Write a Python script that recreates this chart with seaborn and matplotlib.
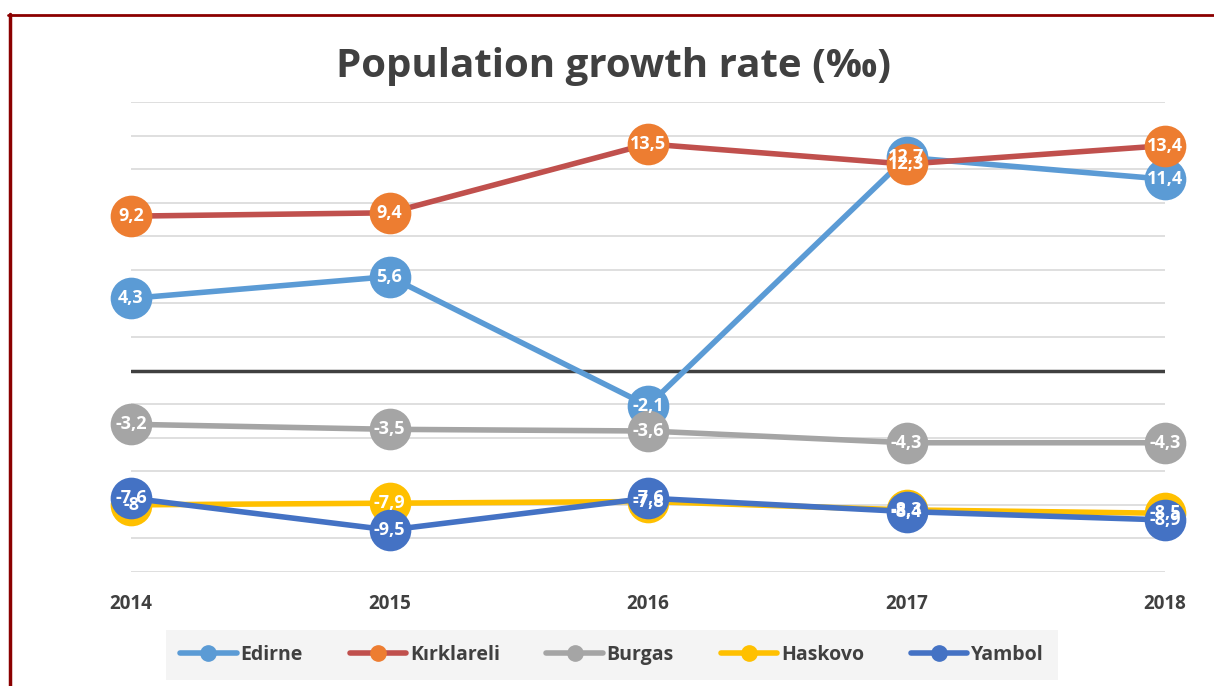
import matplotlib
matplotlib.use("Agg")
import matplotlib.pyplot as plt
import seaborn as sns
import pandas as pd
from matplotlib.lines import Line2D

years = ["2014", "2015", "2016", "2017", "2018"]
edirne = [4.3, 5.6, -2.1, 12.7, 11.4]
kirklareli = [9.2, 9.4, 13.5, 12.3, 13.4]
burgas = [-3.2, -3.5, -3.6, -4.3, -4.3]
haskovo = [-8.0, -7.9, -7.8, -8.3, -8.5]
yambol = [-7.6, -9.5, -7.6, -8.4, -8.9]

series_names = ["Edirne", "Kırklareli", "Burgas", "Haskovo", "Yambol"]
series_vals = [edirne, kirklareli, burgas, haskovo, yambol]
line_colors = ["#5B9BD5", "#C0504D", "#A5A5A5", "#FFC000", "#4472C4"]
marker_colors = ["#5B9BD5", "#ED7D31", "#A5A5A5", "#FFC000", "#4472C4"]

sns.set_theme(style="white")
plt.rcParams['font.family'] = ['Open Sans', 'DejaVu Sans']

fig = plt.figure(figsize=(12.14, 6.86), dpi=100)
ax = fig.add_axes([131/1214, 1-572/686, (1165-131)/1214, (572-102)/686])

xs = list(range(len(years)))
for gy in range(-12, 17, 2):
    if gy == 0:
        continue
    ax.axhline(gy, color="#D9D9D9", lw=1.2, zorder=0)
ax.axhline(0, color="#404040", lw=2.5, zorder=0.5)

def fmt(v):
    if abs(v - round(v)) < 1e-9:
        return f"{int(round(v))}"
    return f"{v:.1f}".replace(".", ",")

for name, vals, lc, mc in zip(series_names, series_vals, line_colors, marker_colors):
    df = pd.DataFrame({"x": xs, "y": vals})
    sns.lineplot(data=df, x="x", y="y", ax=ax, color=lc, lw=4, marker="o",
                 markersize=30, markerfacecolor=mc, markeredgecolor=mc,
                 markeredgewidth=0, zorder=2, legend=False, clip_on=False)
    for x, v in zip(xs, vals):
        ax.text(x, v, fmt(v), ha="center", va="center", color="white",
                fontsize=13, fontweight="bold", zorder=5, clip_on=False)

ax.set_xlim(0, 4)
ax.set_ylim(-12, 16)
ax.set_yticks([])
ax.set_xticks(xs)
ax.set_xticklabels(years, fontsize=13.5, fontweight="bold", color="#404040")
ax.tick_params(axis="x", length=0, pad=16)
ax.set_xlabel("")
ax.set_ylabel("")
for s in ax.spines.values():
    s.set_visible(False)

fig.text(614/1214, 1-66/686, "Population growth rate (‰)", ha="center", va="center",
         fontsize=29, fontweight="bold", color="#404040")

handles = [Line2D([0], [0], color=lc, lw=4, marker="o", markersize=11,
                  markerfacecolor=mc, markeredgecolor=mc)
           for lc, mc in zip(line_colors, marker_colors)]
leg = fig.legend(handles, series_names, loc="center", bbox_to_anchor=(612/1214, 1-655/686),
                 ncol=5, frameon=True, fontsize=14, handlelength=2.9, columnspacing=2.4,
                 handletextpad=0.2, borderpad=0.75, borderaxespad=0)
leg.get_frame().set_facecolor("#F2F2F2")
leg.get_frame().set_edgecolor("none")
leg.get_frame().set_boxstyle("square", pad=0)
for t in leg.get_texts():
    t.set_color("#404040")
    t.set_fontweight("bold")

fig.add_artist(Line2D([9.5/1214, 9.5/1214], [0, 1-14/686], color="#8B0000", lw=2.5,
                      transform=fig.transFigure))
fig.add_artist(Line2D([8/1214, 1], [1-15/686, 1-15/686], color="#8B0000", lw=2,
                      transform=fig.transFigure))

fig.savefig("out.png", dpi=100, facecolor="white")
